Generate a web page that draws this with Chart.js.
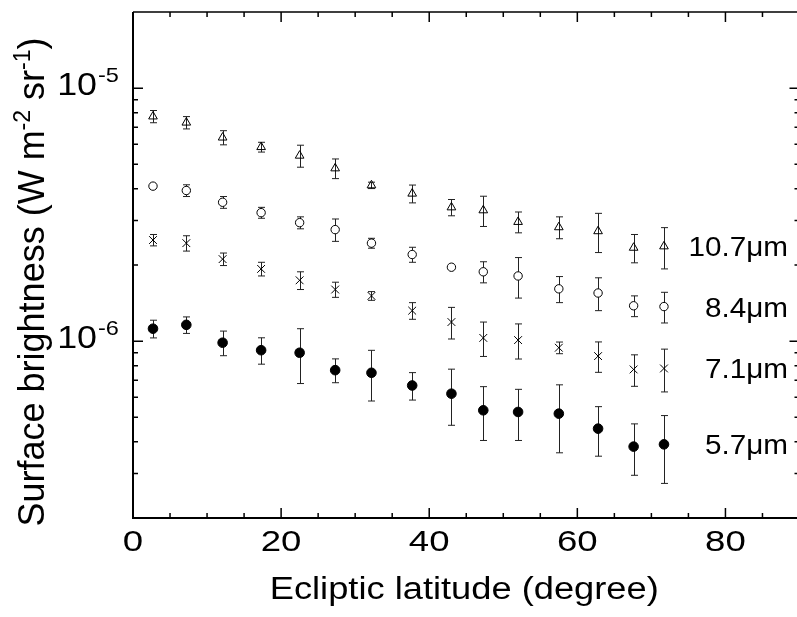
<!DOCTYPE html>
<html>
<head>
<meta charset="utf-8">
<script src="https://cdn.jsdelivr.net/npm/chart.js@4.4.1/dist/chart.umd.min.js"></script>
<style>
  html, body { margin: 0; padding: 0; background: #fff; overflow: hidden; }
  #wrap { position: absolute; left: 0; top: 0; width: 806px; height: 617px; }
</style>
</head>
<body>
<div id="wrap"><canvas id="chart"></canvas></div>
<script>
// ecliptic latitude (degree)
const latitude = [2.7, 7.2, 12.1, 17.3, 22.5, 27.3, 32.2, 37.7, 43.0, 47.3, 52.0, 57.5, 62.8, 67.6, 71.7];

// surface brightness, units of 1e-6 W m-2 sr-1
const sb107 = [7.73, 7.31, 6.38, 5.85, 5.41, 4.82, 4.13, 3.83, 3.38, 3.29, 2.96, 2.82, 2.72, 2.34, 2.37];
const err107 = [0.43, 0.41, 0.41, 0.26, 0.54, 0.43, 0.12, 0.31, 0.25, 0.45, 0.28, 0.28, 0.48, 0.30, 0.44];

const sb84 = [4.10, 3.94, 3.54, 3.22, 2.94, 2.76, 2.44, 2.20, 1.96, 1.88, 1.81, 1.61, 1.55, 1.38, 1.37];
const err84 = [0.04, 0.21, 0.19, 0.16, 0.16, 0.28, 0.11, 0.15, 0.03, 0.18, 0.33, 0.19, 0.23, 0.13, 0.19];

const sb71 = [2.51, 2.44, 2.11, 1.93, 1.74, 1.60, 1.51, 1.32, 1.19, 1.03, 1.01, 0.942, 0.873, 0.773, 0.78];
const err71 = [0.13, 0.17, 0.12, 0.12, 0.14, 0.11, 0.06, 0.10, 0.17, 0.16, 0.16, 0.05, 0.12, 0.11, 0.15];

const sb57 = [1.12, 1.16, 0.986, 0.921, 0.90, 0.768, 0.75, 0.668, 0.62, 0.533, 0.525, 0.517, 0.451, 0.383, 0.391];
const err57 = [0.09, 0.087, 0.11, 0.11, 0.22, 0.083, 0.17, 0.083, 0.155, 0.128, 0.12, 0.155, 0.10, 0.088, 0.117];

const seriesNames = ['10.7\u03bcm', '8.4\u03bcm', '7.1\u03bcm', '5.7\u03bcm'];

const xTickLabels = [0, 20, 40, 60, 80];
const yTickLabels = [1e-6, 1e-5];

const UNIT = 1e-6;
const FONT = '"Liberation Sans", Arial, Helvetica, sans-serif';

function pts(vals) {
    return vals.map((v, i) => ({ x: latitude[i], y: v * UNIT }));
}

const errs = [err107, err84, err71, err57];

function text(ctx, s, x, y, size, align, sx) {
    ctx.save();
    ctx.font = size + 'px ' + FONT;
    ctx.textAlign = align;
    ctx.textBaseline = 'alphabetic';
    ctx.fillStyle = '#000';
    ctx.translate(x, y);
    ctx.scale(sx, 1);
    ctx.fillText(s, 0, 0);
    ctx.restore();
}

const decor = {
    id: 'decor',
    beforeDatasetsDraw(chart) {
        const ctx = chart.ctx;
        const xs = chart.scales.x, ys = chart.scales.y;
        ctx.save();
        ctx.strokeStyle = '#222';
        ctx.lineWidth = 1;
        chart.data.datasets.forEach((ds, i) => {
            ds.data.forEach((p, j) => {
                const s = errs[i][j] * UNIT;
                const px = Math.round(xs.getPixelForValue(p.x)) + 0.5;
                const top = ys.getPixelForValue(p.y + s);
                const bot = ys.getPixelForValue(p.y - s);
                ctx.beginPath();
                ctx.moveTo(px, top); ctx.lineTo(px, bot);
                ctx.moveTo(px - 3.5, top); ctx.lineTo(px + 3.5, top);
                ctx.moveTo(px - 3.5, bot); ctx.lineTo(px + 3.5, bot);
                ctx.stroke();
            });
        });
        ctx.restore();
    },
    afterDraw(chart) {
        const ctx = chart.ctx;
        const a = chart.chartArea;
        const xs = chart.scales.x, ys = chart.scales.y;

        // frame
        ctx.save();
        ctx.strokeStyle = '#000';
        ctx.lineWidth = 2;
        ctx.beginPath();
        ctx.moveTo(a.left, a.top); ctx.lineTo(a.left, a.bottom); ctx.lineTo(a.right, a.bottom);
        ctx.stroke();
        ctx.lineWidth = 1.5;
        ctx.beginPath();
        ctx.moveTo(a.left, a.top); ctx.lineTo(a.right, a.top); ctx.lineTo(a.right, a.bottom);
        ctx.stroke();

        // x ticks (inward, bottom and top)
        for (let v = 5; v < 90; v += 5) {
            const len = v % 20 === 0 ? 10 : 5;
            const px = xs.getPixelForValue(v);
            ctx.beginPath();
            ctx.moveTo(px, a.bottom); ctx.lineTo(px, a.bottom - len);
            ctx.moveTo(px, a.top); ctx.lineTo(px, a.top + len);
            ctx.stroke();
        }
        // y ticks (log, inward, left and right)
        for (let k = -7; k <= -5; k++) {
            for (let m = 1; m <= 9; m++) {
                const v = m * Math.pow(10, k);
                if (v <= ys.min * 1.001 || v >= ys.max * 0.999) continue;
                const len = m === 1 ? 10 : 5;
                const py = ys.getPixelForValue(v);
                ctx.beginPath();
                ctx.moveTo(a.left, py); ctx.lineTo(a.left + len, py);
                ctx.moveTo(a.right, py); ctx.lineTo(a.right - len, py);
                ctx.stroke();
            }
        }
        ctx.restore();

        // x tick labels
        xTickLabels.forEach(v => {
            text(ctx, String(v), xs.getPixelForValue(v), a.bottom + 33, 30, 'center', 1.22);
        });

        // y tick labels with exponent
        yTickLabels.forEach(v => {
            const py = ys.getPixelForValue(v);
            const e = Math.round(Math.log10(v));
            text(ctx, '10', 97, py + 7, 32, 'right', 1.12);
            text(ctx, '-' + Math.abs(e), 98, py - 6, 21, 'left', 1.12);
        });

        // x title
        text(ctx, 'Ecliptic latitude (degree)', (a.left + a.right) / 2 - 2, 599, 31, 'center', 1.17);

        // y title with superscripts, rotated
        ctx.save();
        ctx.translate(44, 282);
        ctx.rotate(-Math.PI / 2);
        ctx.fillStyle = '#000';
        ctx.textBaseline = 'alphabetic';
        ctx.textAlign = 'left';
        const segs = [
            ['Surface brightness (W m', 36, 0],
            ['-2', 23, -14],
            [' sr', 36, 0],
            ['-1', 23, -14],
            [')', 36, 0]
        ];
        let total = 0;
        segs.forEach(s => { ctx.font = s[1] + 'px ' + FONT; total += ctx.measureText(s[0]).width; });
        let cx = -total / 2;
        segs.forEach(s => {
            ctx.font = s[1] + 'px ' + FONT;
            ctx.fillText(s[0], cx, s[2]);
            cx += ctx.measureText(s[0]).width;
        });
        ctx.restore();

        // series labels next to the last point
        chart.data.datasets.forEach(ds => {
            const last = ds.data[ds.data.length - 1];
            const py = ys.getPixelForValue(last.y);
            text(ctx, ds.label, 788, py + 10, 28, 'right', 1.06);
        });
    }
};

new Chart(document.getElementById('chart'), {
    type: 'scatter',
    data: {
        datasets: [
            { label: seriesNames[0], data: pts(sb107), pointStyle: 'triangle', pointRadius: 5,
              borderColor: '#000', backgroundColor: 'rgba(0,0,0,0)', pointBorderWidth: 1 },
            { label: seriesNames[1], data: pts(sb84), pointStyle: 'circle', pointRadius: 4.2,
              borderColor: '#000', backgroundColor: '#fff', pointBorderWidth: 1 },
            { label: seriesNames[2], data: pts(sb71), pointStyle: 'crossRot', pointRadius: 5.5,
              borderColor: '#000', backgroundColor: '#000', pointBorderWidth: 1 },
            { label: seriesNames[3], data: pts(sb57), pointStyle: 'circle', pointRadius: 4.8,
              borderColor: '#000', backgroundColor: '#000', pointBorderWidth: 1 }
        ]
    },
    options: {
        responsive: true,
        maintainAspectRatio: false,
        animation: false,
        devicePixelRatio: 1,
        layout: { padding: { left: 133, right: 4.5, top: 12, bottom: 99 } },
        plugins: {
            legend: { display: false },
            tooltip: { enabled: false }
        },
        scales: {
            x: { type: 'linear', min: 0, max: 90, display: false },
            y: { type: 'logarithmic', min: 2e-7, max: 2e-5, display: false }
        }
    },
    plugins: [decor]
});
</script>
</body>
</html>
